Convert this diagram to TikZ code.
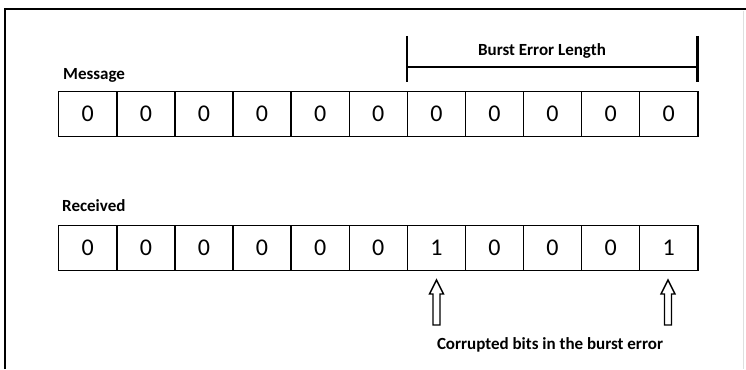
\documentclass[tikz,border=0pt]{standalone}
\usepackage{fontspec}
\setmainfont{Carlito}
\begin{document}
\begin{tikzpicture}[x=1pt,y=-1pt,
  cell/.style={draw=black,line width=1.4pt,minimum width=58.1pt,minimum height=45pt,inner sep=0pt,font=\fontsize{24}{24}\selectfont,anchor=north west},
  lbl/.style={font=\bfseries\fontsize{17}{19}\selectfont,inner sep=0pt},
  hollowarrow/.style={draw=black,line width=1.4pt,fill=white,line join=miter}]
\useasboundingbox (0,0) rectangle (746,369);
\fill[white] (0,0) rectangle (746,369);
% frame
\coordinate (fa) at (5,369);
\coordinate (fb) at (5,9);
\coordinate (fc) at (746,9);
\draw[line width=2pt] (fa) -- (fb) -- (fc);
\coordinate (fd) at (743,11);
\coordinate (fe) at (743,369);
\draw[gray!25,line width=0.8pt] (fd) -- (fe);
% message row
\foreach \i/\v in {1/0,2/0,3/0,4/0,5/0,6/0,7/0,8/0,9/0,10/0,11/0}{
  \node[cell] (m\i) at ({58+(\i-1)*58.1},91) {\v};
}
\foreach \i/\v in {1/0,2/0,3/0,4/0,5/0,6/0,7/1,8/0,9/0,10/0,11/1}{
  \node[cell] (r\i) at ({58+(\i-1)*58.1},225) {\v};
}
\node[lbl,anchor=west] (msg) at (63,75) {Message};
\node[lbl,anchor=west] (rcv) at (62,206) {Received};
% burst bracket
\coordinate (bl1) at (407,36);
\coordinate (bl2) at (407,82);
\coordinate (br1) at (697.5,36);
\coordinate (br2) at (697.5,82);
\coordinate (hl) at (407,67);
\coordinate (hr) at (697.5,67);
\draw[line width=2.4pt] (bl1) -- (bl2);
\draw[line width=2.4pt] (br1) -- (br2);
\draw[line width=1.6pt] (hl) -- (hr);
\node[lbl] (bel) at (542,51) {Burst Error Length};
% arrows
\foreach \n/\x in {t1/436.5,t2/668}{
  \coordinate (\n) at (\x,280);
  \draw[hollowarrow] (\n) -- ++(7,14) -- ++(-3.5,0) -- ++(0,31) -- ++(-7,0) -- ++(0,-31) -- ++(-3.5,0) -- cycle;
}
\node[lbl] (ct) at (550,345) {Corrupted bits in the burst error};
\end{tikzpicture}
\end{document}
